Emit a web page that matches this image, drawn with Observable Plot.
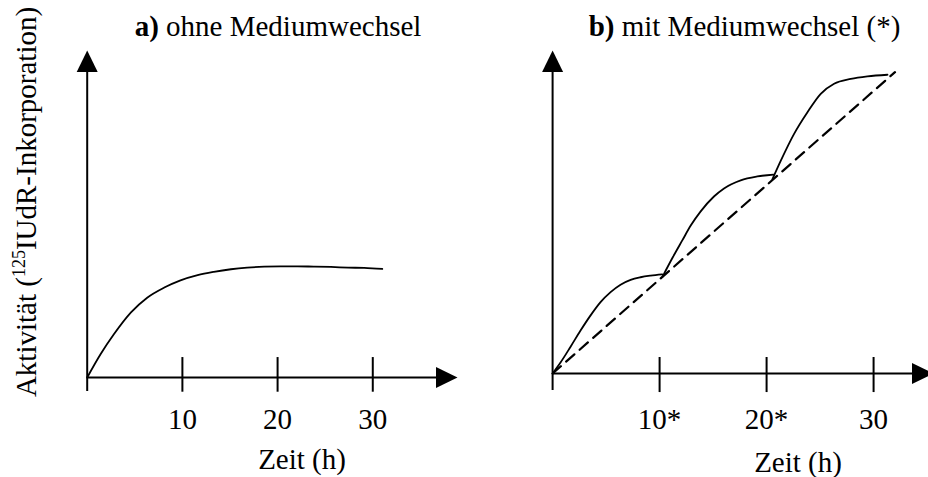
<!DOCTYPE html>
<html>
<head>
<meta charset="utf-8">
<script src="https://cdn.jsdelivr.net/npm/d3@7"></script>
<script src="https://cdn.jsdelivr.net/npm/@observablehq/plot@0.6"></script>
<style>
  html, body { margin: 0; padding: 0; background: #fff; }
  #chart { display: flex; width: 928px; height: 477px; overflow: hidden; }
</style>
</head>
<body>
<div id="chart"></div>
<script>
// Panel a) – activity without medium change (hours, arbitrary activity units)
const hoursA    = [0, 1.4, 2.8, 4.6, 6.3, 8.1, 9.8, 11.6, 13.3, 15.1, 16.8, 18.6, 20.3, 22.1, 23.8, 25.6, 27.4, 29.1, 31.0];
const activityA = [0, 7.1, 13.2, 19.9, 24.4, 27.5, 29.7, 31.3, 32.3, 33.1, 33.6, 33.9, 34.0, 34.0, 33.9, 33.8, 33.6, 33.5, 33.2];

// Panel b) – activity with medium change at 10 h and 20 h, one array pair per culture period
const hoursB1    = [0, 0.74, 1.68, 2.61, 3.55, 4.48, 5.42, 6.35, 7.29, 8.22, 9.16, 10.25];
const activityB1 = [0, 3.4, 8.3, 13.3, 18.0, 22.1, 25.2, 27.5, 29.0, 29.8, 30.3, 30.7];
const hoursB2    = [10.28, 11.22, 12.12, 12.91, 13.84, 15.08, 16.02, 17.58, 19.14, 20.64];
const activityB2 = [30.0, 35.9, 41.2, 45.8, 50.2, 54.8, 57.3, 59.8, 61.0, 61.6];
const hoursB3    = [20.55, 21.33, 22.57, 23.82, 25.06, 26.31, 27.87, 29.43, 31.3];
const activityB3 = [60.2, 65.9, 74.2, 80.9, 86.6, 89.7, 91.2, 92.0, 92.5];

// Linear trend through the medium changes (dashed)
const trendHours    = [0, 32.0];
const trendActivity = [0, 93.3];

// Axes
const ticksA = [10, 20, 30];
const tickLabelsA = ["10", "20", "30"];
const ticksB = [10, 20, 30];
const tickLabelsB = ["10*", "20*", "30"];
const xLabel = "Zeit (h)";
const yLabelParts = ["Aktivität (", "125", "IUdR-Inkorporation)"];
const titleAParts = ["a)", " ohne Mediumwechsel"];
const titleBParts = ["b)", " mit Mediumwechsel (*)"];

const font = '"Liberation Serif", "Times New Roman", serif';
const textSize = 29;
const axisEndA = 38.9;   // arrow tip of the time axis, panel a
const axisEndB = 35.6;   // arrow tip of the time axis, panel b
const yTop = 100;        // arrow tip of the activity axis

// Filled arrowhead pointing up, tip at the symbol origin
const arrowHead = {
  draw(context) {
    context.moveTo(0, 0);
    context.lineTo(-10.5, 21.5);
    context.lineTo(10.5, 21.5);
    context.closePath();
  }
};

const zip = (xs, ys, seg) => xs.map((h, i) => ({h, v: ys[i], seg}));
const rowsA = zip(hoursA, activityA, "a");
const rowsB = [
  ...zip(hoursB1, activityB1, 1),
  ...zip(hoursB2, activityB2, 2),
  ...zip(hoursB3, activityB3, 3)
];
const trendRows = zip(trendHours, trendActivity, "t");
const tickRows = (ticks, labels) => ticks.map((t, i) => ({t, label: labels[i]}));

function axesMarks(axisEnd, tickRowsList, yBelow, tickLow, tickHigh, labelDy) {
  return [
    Plot.ruleX([0], {y1: yBelow, y2: yTop - 5, strokeWidth: 2}),
    Plot.ruleY([0], {x1: 0, x2: axisEnd - 1, strokeWidth: 2}),
    Plot.ruleX(tickRowsList, {x: "t", y1: tickLow, y2: tickHigh, strokeWidth: 2}),
    Plot.dot([{x: 0, y: yTop}], {x: "x", y: "y", symbol: arrowHead, fill: "black"}),
    Plot.dot([{x: axisEnd, y: 0}], {x: "x", y: "y", symbol: arrowHead, fill: "black", rotate: 90}),
    Plot.text(tickRowsList, {x: "t", y: 0, text: "label", dy: labelDy, lineAnchor: "bottom", fontSize: textSize, fontFamily: font})
  ];
}

const plotA = Plot.plot({
  width: 464, height: 477, margin: 0,
  style: {fontFamily: font, background: "white"},
  x: {domain: [0, axisEndA], range: [86.7, 457], axis: null},
  y: {domain: [0, yTop], range: [377, 50], axis: null},
  marks: [
    ...axesMarks(axisEndA, tickRows(ticksA, tickLabelsA), -4.3, -4.5, 6.1, 51),
    Plot.line(rowsA, {x: "h", y: "v", curve: "monotone-x", strokeWidth: 1.8}),
    Plot.text([xLabel], {frameAnchor: "bottom", dx: 69.5, dy: -9, lineAnchor: "bottom", fontSize: textSize, fontFamily: font}),
    Plot.text([titleAParts.join("")], {frameAnchor: "top", dx: 45.5, dy: 35, lineAnchor: "bottom", fontSize: textSize, fontFamily: font}),
    Plot.text([yLabelParts.join("")], {frameAnchor: "left", textAnchor: "middle", dx: 35, dy: -37, rotate: -90, lineAnchor: "bottom", fontSize: textSize, fontFamily: font})
  ]
});

const plotB = Plot.plot({
  width: 464, height: 477, margin: 0,
  style: {fontFamily: font, background: "white"},
  x: {domain: [0, axisEndB], range: [88.1, 469], axis: null},
  y: {domain: [0, yTop], range: [373, 50], axis: null},
  marks: [
    ...axesMarks(axisEndB, tickRows(ticksB, tickLabelsB), -5.3, -5.9, 4.95, 55),
    Plot.line(trendRows, {x: "h", y: "v", strokeWidth: 2.2, strokeDasharray: "11,7"}),
    Plot.line(rowsB, {x: "h", y: "v", z: "seg", curve: "monotone-x", strokeWidth: 1.8}),
    Plot.text([xLabel], {frameAnchor: "bottom", dx: 101.5, dy: -6, lineAnchor: "bottom", fontSize: textSize, fontFamily: font}),
    Plot.text([titleBParts.join("")], {frameAnchor: "top", dx: 48, dy: 35, lineAnchor: "bottom", fontSize: textSize, fontFamily: font})
  ]
});

// Rebuild a plain label as styled runs (bold prefix, superscript isotope number)
function styleRuns(svg, parts, styler) {
  const plain = parts.join("");
  d3.select(svg).selectAll("text")
    .filter(function () { return this.textContent === plain; })
    .each(function () {
      const t = d3.select(this);
      t.text(null);
      parts.forEach((p, i) => styler(t.append("tspan").text(p), i));
    });
}
styleRuns(plotA, titleAParts, (s, i) => { if (i === 0) s.attr("font-weight", "bold"); });
styleRuns(plotB, titleBParts, (s, i) => { if (i === 0) s.attr("font-weight", "bold"); });
styleRuns(plotA, yLabelParts, (s, i) => {
  if (i === 1) s.attr("font-size", 18).attr("dy", -11);
  if (i === 2) s.attr("dy", 11);
});

document.getElementById("chart").append(plotA, plotB);
</script>
</body>
</html>
